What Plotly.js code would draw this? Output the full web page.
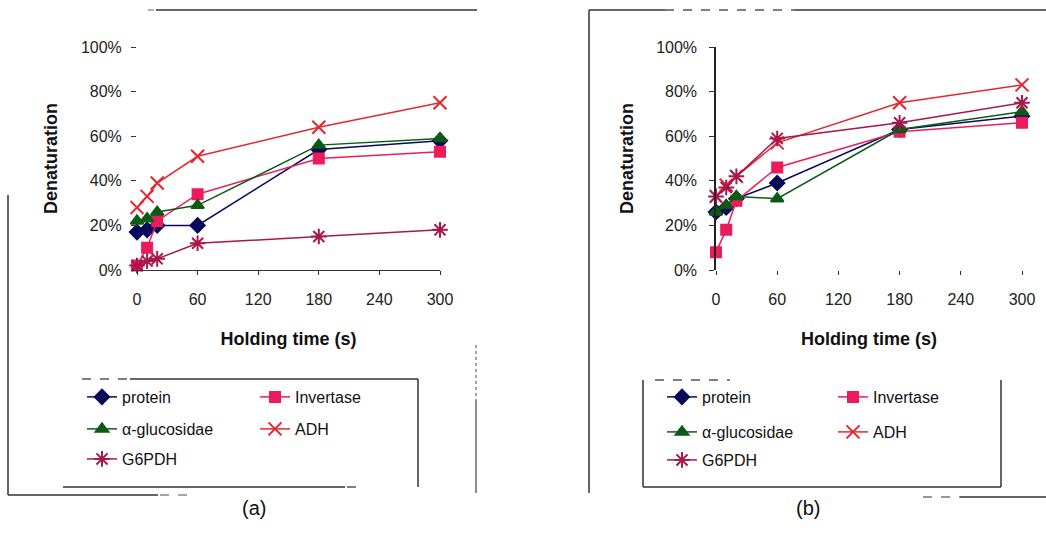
<!DOCTYPE html>
<html>
<head>
<meta charset="utf-8">
<script src="https://cdn.plot.ly/plotly-3.0.1.min.js"></script>
<style>html,body{margin:0;padding:0;background:#fff;}#chart{width:1046px;height:538px;}</style>
</head>
<body>
<div id="chart"></div>
<script>
// Holding time (s)
const holdingTime = [0, 10, 20, 60, 180, 300];
const seriesNames = ["protein", "Invertase", "α-glucosidae", "ADH", "G6PDH"];

// Panel (a) denaturation (%)
const a_protein   = [17, 18, 20, 20, 54, 58];
const a_invertase = [2, 10, 22, 34, 50, 53];
const a_glucos    = [22, 23, 26, 29, 56, 59];
const a_ADH       = [28, 33, 39, 51, 64, 75];
const a_G6PDH     = [2, 4, 5, 12, 15, 18];

// Panel (b) denaturation (%)
const b_protein   = [26, 28, 32, 39, 63, 69];
const b_invertase = [8, 18, 31, 46, 62, 66];
const b_glucos    = [26, 29, 33, 32, 63, 71];
const b_ADH       = [33, 38, 42, 57, 75, 83];
const b_G6PDH     = [33, 37, 42, 59, 66, 75];

const xTicks = [0, 60, 120, 180, 240, 300];
const yTicks = [0, 20, 40, 60, 80, 100];
const panelLabels = ["(a)", "(b)"];

const W = 1046, H = 538;
const px = v => v / W;
const py = v => 1 - v / H;

const styles = [
  {color: "#0a0a5a", symbol: "diamond", size: 11, lw: 1.5},
  {color: "#ec1c5c", symbol: "square", size: 10, lw: 1.5},
  {color: "#0b5a16", symbol: "triangle-up", size: 11, lw: 1.5},
  {color: "#e4262e", symbol: "x-thin-open", size: 13, lw: 1.5},
  {color: "#a8164a", symbol: "asterisk-open", size: 13, lw: 1.5}
];

function mk(y, i, xa, ya, legend) {
  const s = styles[i];
  return {
    type: "scatter", mode: "lines+markers",
    x: holdingTime, y: y, name: seriesNames[i],
    xaxis: xa, yaxis: ya, legend: legend, cliponaxis: false,
    line: {color: s.color, width: s.lw},
    marker: {symbol: s.symbol, size: s.size, color: s.color, line: {color: s.color, width: 2}}
  };
}

const aSeries = [a_protein, a_invertase, a_glucos, a_ADH, a_G6PDH];
const bSeries = [b_protein, b_invertase, b_glucos, b_ADH, b_G6PDH];
const rowOf = [0, 0, 1, 1, 2];
const traces = [];
aSeries.forEach((y, i) => traces.push(mk(y, i, "x", "y", ["legend", "legend2", "legend3"][rowOf[i]])));
bSeries.forEach((y, i) => traces.push(mk(y, i, "x2", "y2", ["legend4", "legend5", "legend6"][rowOf[i]])));

const tickFont = {family: "Liberation Sans, Arial, sans-serif", size: 16, color: "#222"};
const titleFont = {family: "Liberation Sans, Arial, sans-serif", size: 18, color: "#111", weight: "bold"};

function xax(domain, showline) {
  return {
    domain: domain, range: [0, 300], tickvals: xTicks, ticktext: xTicks.map(String),
    showgrid: false, zeroline: false, showline: showline, linecolor: "#333", linewidth: 1.2,
    ticks: "outside", ticklen: 4, tickcolor: "#333", tickfont: tickFont, ticklabelstandoff: 11,
    title: {text: "<b>Holding time (s)</b>", font: titleFont, standoff: 25}, fixedrange: true
  };
}
function yax(anchor, showline, so) {
  return {
    domain: [py(270), py(47)], range: [0, 100], anchor: anchor, tickvals: yTicks,
    ticktext: yTicks.map(v => v + "%"),
    showgrid: false, zeroline: false, showline: showline, linecolor: "#222", linewidth: 1.5,
    ticks: "outside", ticklen: 5, tickcolor: "#333", tickfont: tickFont, ticklabelstandoff: so,
    title: {text: "<b>Denaturation</b>", font: titleFont, standoff: 18}, fixedrange: true
  };
}

function leg(xpx, ypx, ew) {
  return {
    x: px(xpx), y: py(ypx), xanchor: "left", yanchor: "middle", xref: "paper", yref: "paper",
    orientation: "h", entrywidth: ew, entrywidthmode: "pixels", bgcolor: "rgba(0,0,0,0)",
    borderwidth: 0, font: {family: "Liberation Sans, Arial, sans-serif", size: 16, color: "#111"},
    itemclick: false, itemdoubleclick: false
  };
}

const frame = {color: "#333", width: 1.5};
function line(x0, y0, x1, y1, dash, col) {
  return {type: "line", xref: "paper", yref: "paper", x0: px(x0), y0: py(y0), x1: px(x1), y1: py(y1),
    line: {color: col || frame.color, width: frame.width, dash: dash || "solid"}};
}

const shapes = [
  // outer frame (a)
  line(148, 10, 154, 10, "solid", "#999"),
  line(156, 10, 477, 10),
  line(8, 195, 8, 495),
  line(8, 495, 158, 495),
  line(160, 495, 188, 495, "dash", "#888"),
  line(476, 345, 476, 400, "dot", "#888"),
  line(476, 400, 476, 493, "solid", "#666"),
  // legend box (a)
  line(82, 379, 130, 379, "dash", "#555"),
  line(130, 379, 418, 379),
  line(418, 379, 418, 487),
  line(63, 487, 345, 487),
  line(347, 487, 360, 487, "dash", "#555"),
  // outer frame (b)
  line(589, 10, 665, 10),
  line(665, 10, 795, 10, "dash", "#555"),
  line(795, 10, 1046, 10),
  line(589, 10, 589, 493),
  line(923, 497, 960, 497, "dash", "#777"),
  line(960, 497, 1046, 497),
  // legend box (b)
  line(655, 380, 730, 380, "dash", "#555"),
  line(643, 380, 643, 487),
  line(1001, 380, 1001, 487),
  line(643, 487, 1001, 487)
];

const layout = {
  width: W, height: H, margin: {l: 0, r: 0, t: 0, b: 0},
  paper_bgcolor: "#fff", plot_bgcolor: "rgba(0,0,0,0)",
  showlegend: true,
  xaxis: xax([px(137), px(440)], true),
  yaxis: yax("x", false, 6),
  xaxis2: Object.assign(xax([px(716), px(1022)], false), {anchor: "y2"}),
  yaxis2: yax("x2", true, 9),
  legend: leg(82, 397, 128),
  legend2: leg(82, 429, 128),
  legend3: leg(82, 459, 128),
  legend4: leg(662, 397, 126),
  legend5: leg(662, 432, 126),
  legend6: leg(662, 460, 126),
  shapes: shapes,
  annotations: [
    {text: panelLabels[0], x: px(240), y: py(521), xref: "paper", yref: "paper", showarrow: false,
     font: {family: "Liberation Sans, Arial, sans-serif", size: 20, color: "#111"}},
    {text: panelLabels[1], x: px(822), y: py(521), xref: "paper", yref: "paper", showarrow: false,
     font: {family: "Liberation Sans, Arial, sans-serif", size: 20, color: "#111"}}
  ]
};
layout.xaxis.anchor = "y";

Plotly.newPlot("chart", traces, layout, {displayModeBar: false, staticPlot: false});
</script>
</body>
</html>
